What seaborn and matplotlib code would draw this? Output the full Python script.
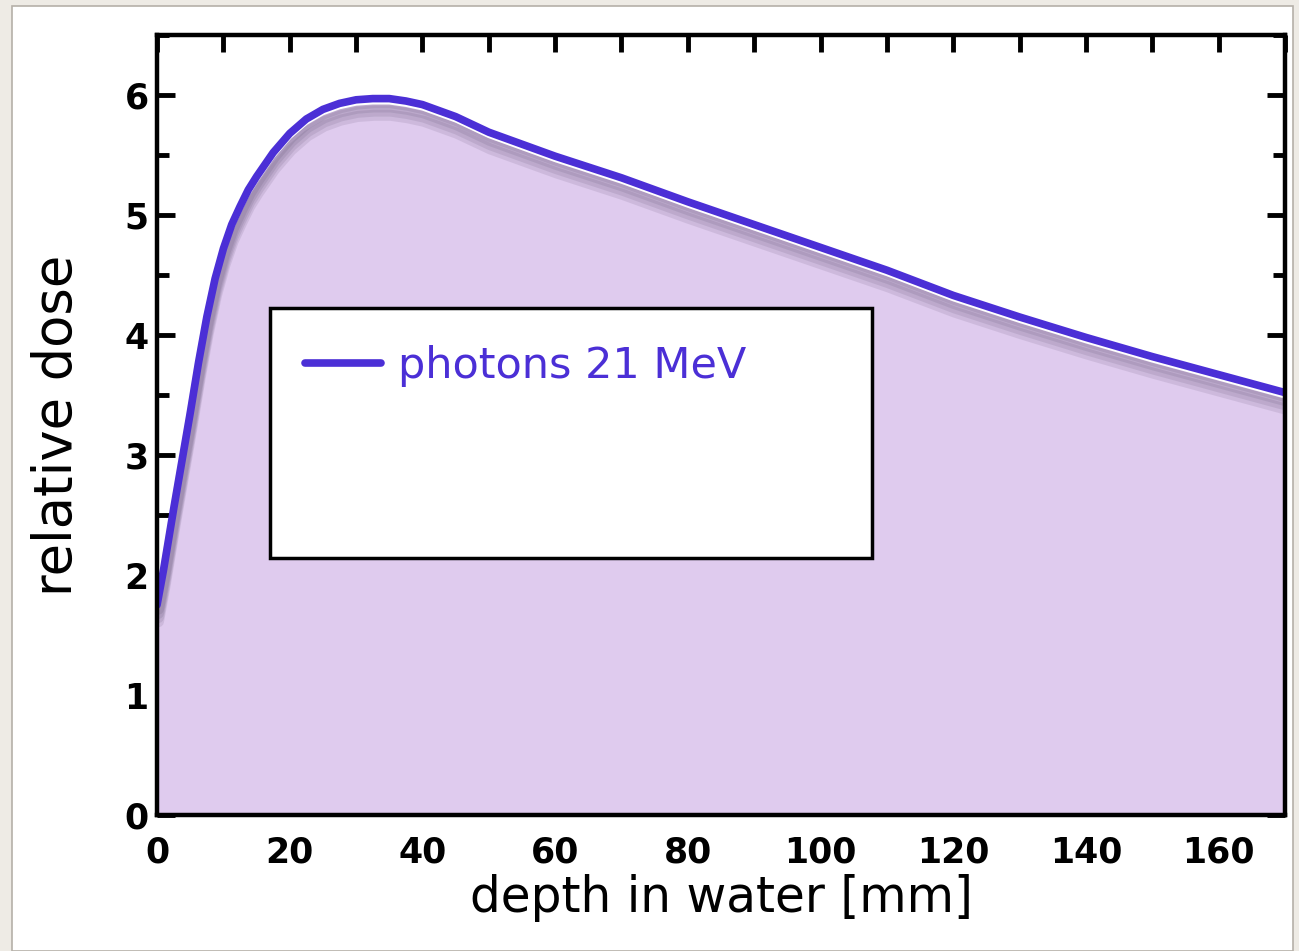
import pandas as pd
import matplotlib
matplotlib.use("Agg")
import matplotlib.pyplot as plt
import matplotlib.patches as mpatches
import matplotlib.patheffects as pe
from matplotlib.lines import Line2D
from matplotlib.ticker import MultipleLocator
import seaborn as sns

# depth-dose curve
depth_mm = [0, 1, 2.5, 3.75, 5, 6.25, 7.5, 8.75, 10, 11.25, 12.5, 13.75, 15,
            17.5, 20, 22.5, 25, 27.5, 30, 32.5, 35, 37.5, 40, 45, 50, 60, 70,
            80, 90, 100, 110, 120, 130, 140, 150, 160, 170]
rel_dose = [1.75, 2.05, 2.55, 2.95, 3.35, 3.77, 4.15, 4.47, 4.72, 4.92, 5.07,
            5.21, 5.32, 5.52, 5.68, 5.80, 5.88, 5.93, 5.96, 5.97, 5.97, 5.95,
            5.92, 5.82, 5.69, 5.49, 5.31, 5.11, 4.92, 4.73, 4.54, 4.33, 4.15,
            3.98, 3.82, 3.67, 3.52]
series_label = "photons 21 MeV"
x_ticks = [0, 20, 40, 60, 80, 100, 120, 140, 160]
y_ticks = [0, 1, 2, 3, 4, 5, 6]

df = pd.DataFrame({"depth": depth_mm, "dose": rel_dose})

sns.set_theme(style="ticks")
plt.rcParams['font.family'] = ['DejaVu Sans']
plt.rcParams['text.color'] = 'black'
plt.rcParams['axes.labelcolor'] = 'black'
plt.rcParams['xtick.color'] = 'black'
plt.rcParams['ytick.color'] = 'black'

line_col = "#4b2fd6"
fill_col = "#dfcbee"

fig = plt.figure(figsize=(12.99, 9.51), dpi=100, facecolor="#eeebe5")
# white sheet behind the chart
sheet = mpatches.Rectangle((0.009, 0.0), 0.986, 0.994, transform=fig.transFigure,
                           facecolor="white", edgecolor="#b5b0a8", lw=1.2, zorder=-10)
fig.patches.append(sheet)

ax = fig.add_axes([0.1209, 0.1430, 0.8683, 0.8202])
ax.set_facecolor("white")

ax.fill_between(df["depth"], df["dose"], 0, color=fill_col, lw=0, zorder=1)

# soft shadow under the curve, then a thin white edge, then the line
shade = [pe.SimpleLineShadow(offset=(1, -3 - 3 * k), shadow_color="#3c3050",
                             alpha=0.11, linewidth=8) for k in range(4)]
sns.lineplot(data=df, x="depth", y="dose", ax=ax, color=line_col, lw=5.5,
             legend=False, zorder=3,
             path_effects=shade + [pe.SimpleLineShadow(offset=(0, -3), shadow_color="white",
                                                       alpha=1.0, linewidth=2.5),
                                   pe.Normal()])

ax.set_xlim(0, 170)
ax.set_ylim(0, 6.5)
ax.set_xticks(x_ticks)
ax.set_yticks(y_ticks)
ax.xaxis.set_minor_locator(MultipleLocator(10))
ax.yaxis.set_minor_locator(MultipleLocator(0.5))

ax.tick_params(axis="both", which="both", direction="in", width=3.5, color="black",
               top=True, right=True, bottom=False)
ax.tick_params(axis="x", which="major", length=12, pad=15, labelsize=25)
ax.tick_params(axis="x", which="minor", length=12)
ax.tick_params(axis="y", which="major", length=13, pad=6, labelsize=25)
ax.tick_params(axis="y", which="minor", length=8.5)
for lab in ax.get_xticklabels() + ax.get_yticklabels():
    lab.set_fontweight("bold")

for sp in ax.spines.values():
    sp.set_linewidth(3.2)
    sp.set_color("black")
    sp.set_zorder(4)

ax.set_xlabel("depth in water [mm]", fontsize=35, labelpad=3)
ax.set_ylabel("relative dose", fontsize=38, labelpad=30)

# legend box with drop shadow
box = mpatches.Rectangle((0.100, 0.330), 0.534, 0.320, transform=ax.transAxes,
                         facecolor="white", edgecolor="black", lw=2.5, zorder=5)
shadow = mpatches.Shadow(box, 2, -6, alpha=0.3, zorder=4.9)
shadow.set_facecolor("#3a3040")
ax.add_patch(shadow)
ax.add_patch(box)

handle = Line2D([], [], color=line_col, lw=5.5)
ax.legend([handle], [series_label], loc="upper left", bbox_to_anchor=(0.097, 0.652),
          frameon=False, fontsize=31, handlelength=1.75, handletextpad=0.4,
          labelcolor=line_col).set_zorder(6)

fig.savefig("out.png", dpi=100, facecolor=fig.get_facecolor())
